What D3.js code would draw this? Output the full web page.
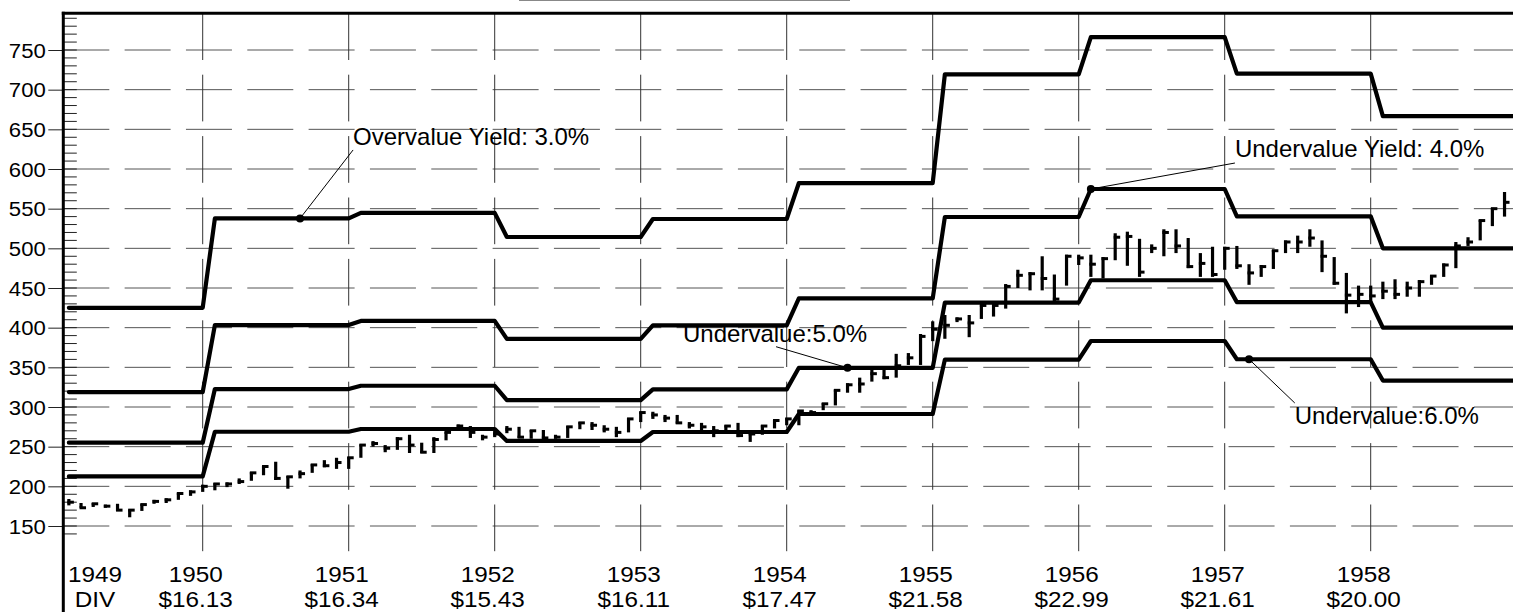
<!DOCTYPE html>
<html>
<head>
<meta charset="utf-8">
<script src="https://cdn.jsdelivr.net/npm/d3@7"></script>
<style>
  body { margin: 0; background: #fff; }
  text { font-family: 'Liberation Sans', Arial, sans-serif; fill: #000; }
</style>
</head>
<body>
<div id="chart"></div>
<script>
const years = [1949, 1950, 1951, 1952, 1953, 1954, 1955, 1956, 1957, 1958];
const divLabels = ['DIV', '$16.13', '$16.34', '$15.43', '$16.11', '$17.47', '$21.58', '$22.99', '$21.61', '$20.00'];
const yTicks = [150, 200, 250, 300, 350, 400, 450, 500, 550, 600, 650, 700, 750];

// value lines, one value per year
const overvalue3 = [425, 537.7, 544.7, 514.3, 537, 582.3, 719.3, 766.3, 720.3, 666.7];
const undervalue4 = [318.8, 403.3, 408.5, 385.8, 402.8, 436.8, 539.5, 574.8, 540.3, 500];
const undervalue5 = [255, 322.6, 326.8, 308.6, 322.2, 349.4, 431.6, 459.8, 432.2, 400];
const undervalue6 = [212.5, 268.8, 272.3, 257.2, 268.5, 291.2, 359.7, 383.2, 360.2, 333.3];

// monthly price bars, Jan 1949 .. Nov 1958
const priceHigh = [
  184,179,179,177,178,171,178,183,185,192,195,202,
  204,205,210,218,226,231,213,220,228,233,236,237,
  253,257,252,262,265,255,262,269,278,276,265,273,
  276,275,271,271,265,276,281,281,277,275,286,294,
  294,290,290,281,280,276,277,280,267,277,284,286,
  296,296,305,322,330,337,348,348,367,368,392,408,
  416,413,416,429,429,455,473,470,490,467,492,492,
  492,489,519,521,512,505,524,524,513,494,502,502,
  503,480,479,498,510,516,524,510,489,469,453,453,
  458,461,458,460,466,481,508,514,536,551,571
];
const priceLow = [
  176,173,174,173,169,161,169,178,179,183,188,193,
  195,199,203,207,214,208,197,210,217,224,222,222,
  236,250,243,246,242,242,242,258,271,261,258,262,
  267,261,260,260,260,261,272,271,268,262,268,281,
  285,281,279,273,271,262,267,262,256,265,273,277,
  277,290,296,302,318,318,332,335,337,353,353,383,
  386,407,388,411,414,424,450,447,447,433,453,479,
  464,462,485,478,464,494,490,494,475,464,464,473,
  474,454,464,474,494,494,502,470,454,418,426,431,
  436,436,439,439,454,464,475,503,510,528,540
];
const priceClose = [
  180,173,178,175,170,170,177,181,183,191,193,200,
  203,203,206,217,225,210,212,216,227,226,230,236,
  252,254,248,260,252,243,259,268,276,268,262,266,
  272,262,270,261,262,275,280,277,272,268,285,293,
  290,286,280,277,275,270,276,264,266,276,283,285,
  295,293,304,321,328,329,342,337,352,362,389,398,
  403,411,406,428,428,452,466,468,462,436,490,488,
  480,487,514,515,470,500,520,503,477,481,467,500,
  478,469,477,497,508,508,513,490,456,441,442,440,
  446,442,450,458,465,479,503,508,535,550,558
];

const annotations = [
  { text: 'Overvalue Yield: 3.0%', t: 1950 + 8 / 12, v: 537.7, lt: 1951.03, lv: 630.3, ex: 0, ey: 5 },
  { text: 'Undervalue Yield: 4.0%', t: 1956 + 1 / 12, v: 574.8, lt: 1957.07, lv: 615.1, ex: 0, ey: 6 },
  { text: 'Undervalue:5.0%', t: 1954 + 5 / 12, v: 349.4, lt: 1953.29, lv: 382.3, ex: 93, ey: 5 },
  { text: 'Undervalue:6.0%', t: 1957 + 2 / 12, v: 360.2, lt: 1957.48, lv: 278.6, ex: 0, ey: -21 }
];

const width = 1513;
const height = 612;
const axisX = 63.3;
const frameTop = 13.3;

const x = d3.scaleLinear().domain([1949, 1959]).range([56.7, 1516.7]);
const y = d3.scaleLinear().domain([150, 750]).range([526, 50]);

const svg = d3.select('#chart')
              .append('svg')
              .attr('width', width)
              .attr('height', height);

// title underline remnant
svg.append('line')
   .attr('x1', 519).attr('x2', 850)
   .attr('y1', 0.5).attr('y2', 0.5)
   .attr('stroke', '#888').attr('stroke-width', 1);

// grid
svg.append('g')
   .selectAll('line')
   .data(yTicks)
   .join('line')
     .attr('x1', axisX).attr('x2', width)
     .attr('y1', d => y(d)).attr('y2', d => y(d))
     .attr('stroke', '#555')
     .attr('stroke-width', 1)
     .attr('stroke-dasharray', '46,15.33');

svg.append('g')
   .selectAll('line')
   .data(years.slice(1))
   .join('line')
     .attr('x1', d => x(d)).attr('x2', d => x(d))
     .attr('y1', frameTop).attr('y2', 556)
     .attr('stroke', '#333')
     .attr('stroke-width', 1)
     .attr('stroke-dasharray', '46.7,14.7');

// left axis: major ticks outside, minor ticks inside
const yAxis = svg.append('g').attr('transform', `translate(${axisX},0)`);
yAxis.call(d3.axisLeft(y).tickValues(yTicks).tickSize(15).tickFormat(''))
     .call(g => g.select('.domain').remove())
     .call(g => g.selectAll('.tick line').attr('stroke', '#222'));

yAxis.append('g')
     .selectAll('text')
     .data(yTicks)
     .join('text')
       .attr('transform', d => `translate(-17.5,${y(d) + 7.5}) scale(1.08,1)`)
       .attr('text-anchor', 'end')
       .attr('font-size', 20.5)
       .text(d => d);

yAxis.append('g')
     .selectAll('line')
     .data(d3.range(140, 791, 10))
     .join('line')
       .attr('x1', 0).attr('x2', 13.5)
       .attr('y1', d => y(d)).attr('y2', d => y(d))
       .attr('stroke', '#222')
       .attr('stroke-width', 1);

// frame
svg.append('line')
   .attr('x1', axisX).attr('x2', axisX)
   .attr('y1', frameTop - 1.5).attr('y2', height)
   .attr('stroke', '#000').attr('stroke-width', 3);
svg.append('line')
   .attr('x1', axisX - 1.5).attr('x2', width)
   .attr('y1', frameTop).attr('y2', frameTop)
   .attr('stroke', '#000').attr('stroke-width', 3);

// price bars
const bars = priceHigh.map((h, i) => ({
  t: 1949 + (i + 1) / 12, high: h, low: priceLow[i], close: priceClose[i]
}));

const barG = svg.append('g');
barG.selectAll('line.hl')
    .data(bars)
    .join('line')
      .attr('class', 'hl')
      .attr('x1', d => x(d.t)).attr('x2', d => x(d.t))
      .attr('y1', d => y(d.high)).attr('y2', d => y(d.low))
      .attr('stroke', '#000')
      .attr('stroke-width', 3.2);
barG.selectAll('line.cl')
    .data(bars)
    .join('line')
      .attr('class', 'cl')
      .attr('x1', d => x(d.t) - 1.5).attr('x2', d => x(d.t) + 5)
      .attr('y1', d => y(d.close)).attr('y2', d => y(d.close))
      .attr('stroke', '#000')
      .attr('stroke-width', 3);

// value lines
const line = d3.line().x(d => x(d[0])).y(d => y(d[1]));
const toSteps = vals => vals.flatMap((v, i) => [[years[i] + 1 / 12, v], [years[i] + 1, v]]);

svg.append('g')
   .selectAll('path')
   .data([overvalue3, undervalue4, undervalue5, undervalue6])
   .join('path')
     .attr('d', d => line(toSteps(d)))
     .attr('fill', 'none')
     .attr('stroke', '#000')
     .attr('stroke-width', 4.2)
     .attr('stroke-linejoin', 'round')
     .attr('stroke-linecap', 'round');

// annotations
const ann = svg.append('g');
ann.selectAll('line')
   .data(annotations)
   .join('line')
     .attr('x1', d => x(d.t)).attr('y1', d => y(d.v))
     .attr('x2', d => x(d.lt) + d.ex).attr('y2', d => y(d.lv) + d.ey)
     .attr('stroke', '#000')
     .attr('stroke-width', 1);
ann.selectAll('circle')
   .data(annotations)
   .join('circle')
     .attr('cx', d => x(d.t)).attr('cy', d => y(d.v))
     .attr('r', 4)
     .attr('fill', '#000');
ann.selectAll('text')
   .data(annotations)
   .join('text')
     .attr('x', d => x(d.lt)).attr('y', d => y(d.lv))
     .attr('font-size', 24)
     .text(d => d.text);

// bottom labels
const labelX = (yr, i) => i === 0 ? 95 : x(yr) - 7;
const bottom = svg.append('g').attr('font-size', 22.5).attr('text-anchor', 'middle');
bottom.selectAll('text.yr')
      .data(years)
      .join('text')
        .attr('class', 'yr')
        .attr('transform', (d, i) => `translate(${labelX(d, i)},582) scale(1.08,1)`)
        .text(d => d);
bottom.selectAll('text.dv')
      .data(divLabels)
      .join('text')
        .attr('class', 'dv')
        .attr('transform', (d, i) => `translate(${labelX(years[i], i)},607) scale(1.08,1)`)
        .text(d => d);
</script>
</body>
</html>
